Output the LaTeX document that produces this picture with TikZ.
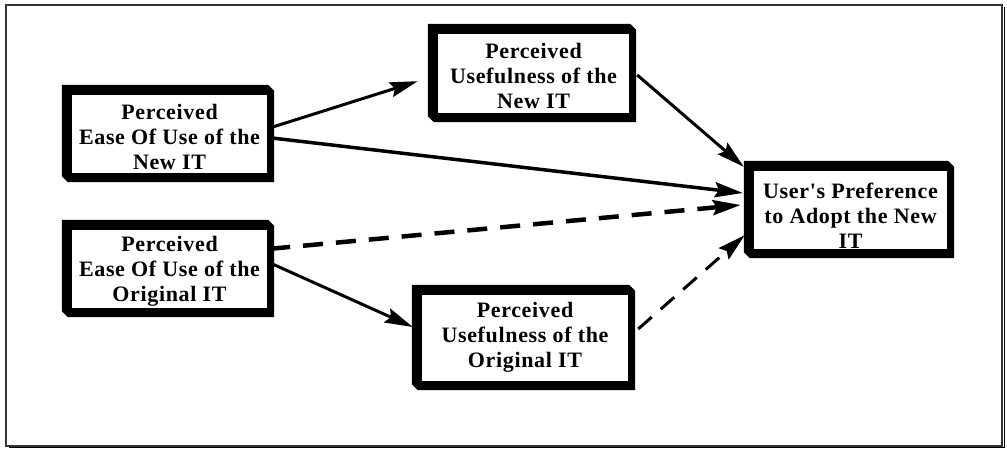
\documentclass[tikz,border=0pt]{standalone}
\usepackage{fontspec}
\setmainfont{Liberation Serif}
\newfontfamily\boxfont[LetterSpace=3]{Liberation Serif}
\usetikzlibrary{calc,arrows.meta}
\tikzset{
  boxarea/.style={rectangle, draw=none, inner sep=0pt},
  boxtext/.style={align=center, inner sep=0pt, font=\boxfont\bfseries\fontsize{22}{25}\selectfont},
  solidarrow/.style={line width=3pt, -{Stealth[length=28pt,width=15pt,inset=4pt]}},
  dasharrow/.style={line width=4.5pt, dash pattern=on 20pt off 13pt, -{Stealth[length=28pt,width=15pt,inset=4pt]}},
  thindasharrow/.style={line width=3pt, dash pattern=on 18pt off 12pt, -{Stealth[length=28pt,width=15pt,inset=4pt]}},
}
\begin{document}
\begin{tikzpicture}[x=1pt,y=-1pt]
\useasboundingbox (0,0) rectangle (1007,452);
\fill[white] (0,0) rectangle (1007,452);
% outer frame
\draw[black, line width=1.5pt] (1004.5,7) -- (1004.5,447.5) -- (9,447.5);
\draw[black!80, line width=1.5pt] (6,5) rectangle (1002,446);

% box areas (inner white rectangles)
\node[boxarea, minimum width=195pt, minimum height=78pt] (b1) at (169.5,134) {};
\node[boxarea, minimum width=195pt, minimum height=78pt] (b2) at (169.5,269) {};
\node[boxarea, minimum width=191pt, minimum height=79pt] (b3) at (533.5,73.5) {};
\node[boxarea, minimum width=206pt, minimum height=86pt] (b4) at (525,338) {};
\node[boxarea, minimum width=193pt, minimum height=78pt] (b5) at (850.5,210) {};

% texts
\node[boxtext] (t1) at ($(b1)+(0,3)$) {Perceived\\Ease Of Use of the\\New IT};
\node[boxtext] (t2) at ($(b2)+(0,2)$) {Perceived\\Ease Of Use of the\\Original IT};
\node[boxtext] (t3) at ($(b3)+(0,2)$) {Perceived\\Usefulness of the\\New IT};
\node[boxtext] (t4) at ($(b4)+(0,-1)$) {Perceived\\Usefulness of the\\Original IT};
\node[boxtext] (t5) at ($(b5)+(0,6)$) {User's Preference\\to Adopt the New\\IT};

% connectors
\draw[solidarrow] ($(b1.north east)+(3,33)$) -- ($(b3.south west)+(-20,-32)$);
\draw[solidarrow, line width=3.5pt] ($(b1.north east)+(3,43)$) -- ($(b5.west)+(-11,-17)$);
\draw[solidarrow] ($(b3.east)+(8,1.5)$) -- ($(b5.north west)+(-10,-4)$);
\draw[dasharrow] ($(b2.north east)+(3,19)$) -- ($(b5.west)+(-13,-5)$);
\draw[solidarrow] ($(b2.east)+(3,-6)$) -- ($(b4.west)+(-9,-11)$);
\draw[thindasharrow] ($(b4.east)+(10,-9)$) -- ($(b5.south west)+(-9,-14)$);

% box borders (with chamfered shadow)
\foreach \n in {b1,b2,b3,b4,b5} {
  \fill[black, even odd rule]
    ($(\n.north west)+(-10,-10)$) -- ($(\n.north east)+(1,-10)$) --
    ($(\n.north east)+(7,-4)$) -- ($(\n.south east)+(7,9)$) --
    ($(\n.south west)+(-4,9)$) -- ($(\n.south west)+(-10,3)$) -- cycle
    (\n.north west) rectangle (\n.south east);
}
\end{tikzpicture}
\end{document}
